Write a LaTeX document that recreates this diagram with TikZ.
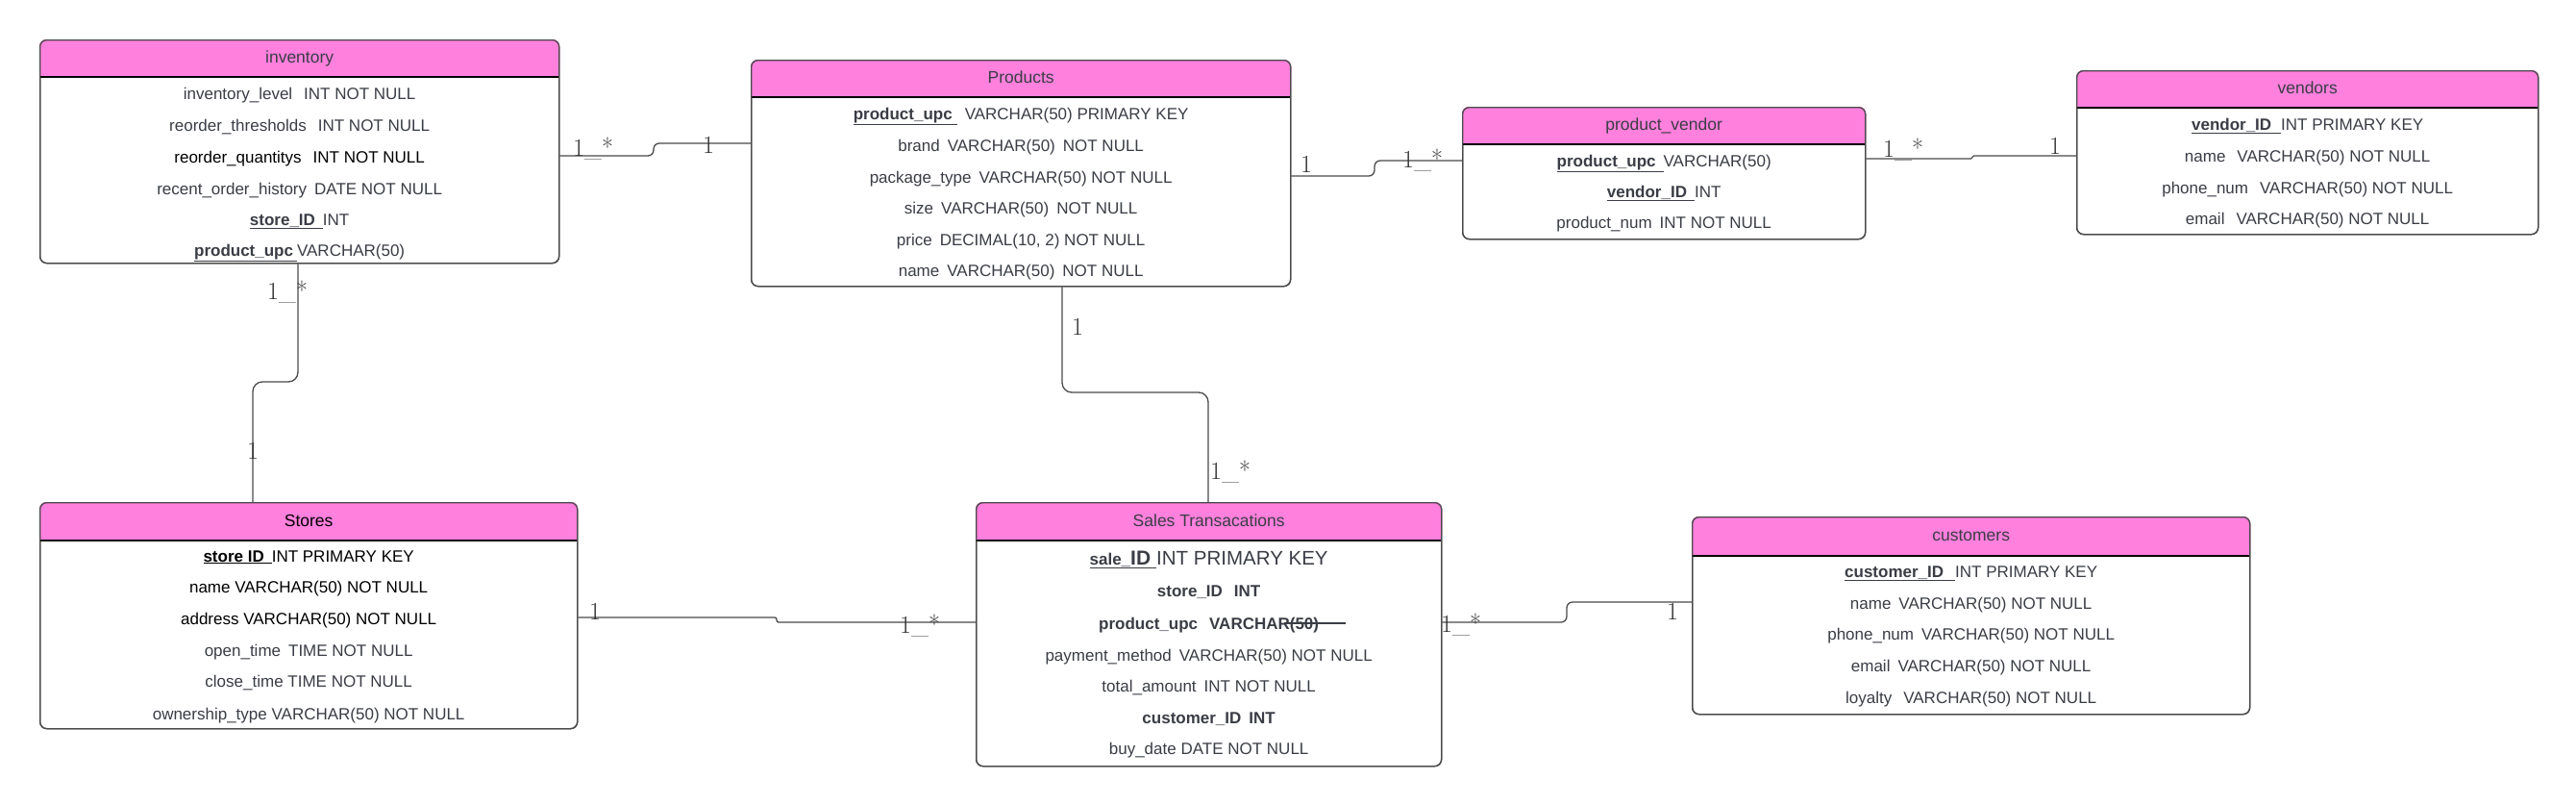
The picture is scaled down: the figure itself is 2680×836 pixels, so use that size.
\documentclass[tikz,border=0pt]{standalone}
\usepackage{fontspec}
\newfontfamily\tf{Liberation Sans}
\definecolor{hdr}{HTML}{FF80DD}
\definecolor{txt}{HTML}{3A3D45}
\definecolor{bord}{HTML}{4A4A4A}
\newcommand\ulx[1]{\underline{#1}}
\tikzset{
  tblbox/.style={draw=bord, line width=1.3pt, rounded corners=7pt, anchor=north west, inner sep=0pt, fill=none},
  row/.style={font=\tf\fontsize{17}{17}\selectfont, text=txt, inner sep=0pt, text height=13pt, text depth=3pt, anchor=center},
  rowk/.style={row, text=black},
  ttl/.style={row, font=\tf\fontsize{17.5}{17.5}\selectfont},
  conn/.style={draw=bord, line width=1.3pt, rounded corners=6pt},
  connb/.style={draw=bord, line width=1.3pt, rounded corners=10pt},
  card/.style={font=\fontsize{26}{26}\selectfont, text=black!80, inner sep=0pt, anchor=center},
}
% #1 name, #2 x1, #3 y1, #4 w, #5 h, #6 header bottom y, #7 title, #8 title style
\newcommand\ertable[8]{%
  \node[tblbox, minimum width=#4pt, minimum height=#5pt] (#1) at (#2,#3) {};
  \fill[hdr, rounded corners=7pt] (#1.north west) rectangle (#1.east |- 0,#6);
  \fill[hdr] (#1.west |- 0,{#3+12}) rectangle (#1.east |- 0,#6);
  \draw[black, line width=1.5pt] (#1.west |- 0,#6) -- (#1.east |- 0,#6);
  \node[tblbox, minimum width=#4pt, minimum height=#5pt] at (#2,#3) {};
  \node[#8] (#1-t) at ($(#1.north)!0.5!(#1.north |- 0,#6)$) {#7};
}
\usetikzlibrary{calc}
\begin{document}
\begin{tikzpicture}[x=1pt,y=-1pt]
\useasboundingbox[fill=white] (0,0) rectangle (2680,836);

% inventory
\ertable{inv}{41}{41}{540}{232}{80}{inventory}{ttl}
\node[row] (inv1) at (inv.north |- 0,98) {inventory\_level\hspace{12pt}INT NOT NULL};
\node[row] (inv2) at (inv.north |- 0,131) {reorder\_thresholds\hspace{12pt}INT NOT NULL};
\node[rowk] (inv3) at (inv.north |- 0,164) {reorder\_quantitys\hspace{12pt}INT NOT NULL};
\node[row] (inv4) at (inv.north |- 0,197) {recent\_order\_history\hspace{8pt}DATE NOT NULL};
\node[row] (inv5) at (inv.north |- 0,229) {\ulx{\textbf{store\_ID}\hspace{8pt}}INT};
\node[row] (inv6) at (inv.north |- 0,261) {\ulx{\textbf{product\_upc}\hspace{4pt}}VARCHAR(50)};

% Products
\ertable{prod}{781}{62}{561}{235}{101}{Products}{ttl}
\node[row] (p1) at (prod.north |- 0,119) {\ulx{\textbf{product\_upc}\hspace{5pt}}\hspace{8pt}VARCHAR(50) PRIMARY KEY};
\node[row] (p2) at (prod.north |- 0,152) {brand\hspace{8pt}VARCHAR(50)\hspace{8pt}NOT NULL};
\node[row] (p3) at (prod.north |- 0,185) {package\_type\hspace{8pt}VARCHAR(50) NOT NULL};
\node[row] (p4) at (prod.north |- 0,217) {size\hspace{8pt}VARCHAR(50)\hspace{8pt}NOT NULL};
\node[row] (p5) at (prod.north |- 0,250) {price\hspace{8pt}DECIMAL(10, 2) NOT NULL};
\node[row] (p6) at (prod.north |- 0,282) {name\hspace{8pt}VARCHAR(50)\hspace{8pt}NOT NULL};

% product_vendor
\ertable{pv}{1521}{111}{419}{137}{150}{product\_vendor}{ttl}
\node[row] (pv1) at (pv.north |- 0,168) {\ulx{\textbf{product\_upc}\hspace{8pt}}VARCHAR(50)};
\node[row] (pv2) at (pv.north |- 0,200) {\ulx{\textbf{vendor\_ID}\hspace{8pt}}INT};
\node[row] (pv3) at (pv.north |- 0,232) {product\_num\hspace{8pt}INT NOT NULL};

% vendors
\ertable{ven}{2160}{73}{480}{170}{112}{vendors}{ttl}
\node[row] (v1) at (ven.north |- 0,130) {\ulx{\textbf{vendor\_ID}\hspace{10pt}}INT PRIMARY KEY};
\node[row] (v2) at (ven.north |- 0,163) {name\hspace{12pt}VARCHAR(50) NOT NULL};
\node[row] (v3) at (ven.north |- 0,196) {phone\_num\hspace{12pt}VARCHAR(50) NOT NULL};
\node[row] (v4) at (ven.north |- 0,228) {email\hspace{12pt}VARCHAR(50) NOT NULL};

% Stores
\ertable{st}{41}{522}{559}{235}{562}{Stores}{ttl,text=black}
\node[rowk] (s1) at (st.north |- 0,579) {\ulx{\textbf{store ID}\hspace{8pt}}INT PRIMARY KEY};
\node[rowk] (s2) at (st.north |- 0,611) {name VARCHAR(50) NOT NULL};
\node[rowk] (s3) at (st.north |- 0,644) {address VARCHAR(50) NOT NULL};
\node[row] (s4) at (st.north |- 0,677) {open\_time\hspace{8pt}TIME NOT NULL};
\node[row] (s5) at (st.north |- 0,709) {close\_time TIME NOT NULL};
\node[row] (s6) at (st.north |- 0,743) {ownership\_type VARCHAR(50) NOT NULL};

% Sales Transacations
\ertable{sal}{1015}{522}{484}{274}{562}{Sales Transacations}{ttl}
\node[row] (t1) at (sal.north |- 0,582) {\ulx{\textbf{sale\_{\fontsize{21}{21}\selectfont ID}}\hspace{6pt}}{\fontsize{20.5}{20.5}\selectfont INT PRIMARY KEY}};
\node[row] (t2) at (sal.north |- 0,615) {\textbf{store\_ID\hspace{12pt}INT}};
\node[row] (t3) at (sal.north |- 0,649) {\textbf{product\_upc\hspace{12pt}VARCHAR(50)}};
\draw[txt, line width=1.2pt] ([xshift=-36pt,yshift=1pt]t3.east) -- ([xshift=28pt,yshift=1pt]t3.east);
\node[row] (t4) at (sal.north |- 0,682) {payment\_method\hspace{8pt}VARCHAR(50) NOT NULL};
\node[row] (t5) at (sal.north |- 0,714) {total\_amount\hspace{8pt}INT NOT NULL};
\node[row] (t6) at (sal.north |- 0,747) {\textbf{customer\_ID\hspace{8pt}INT}};
\node[row] (t7) at (sal.north |- 0,779) {buy\_date DATE NOT NULL};

% customers
\ertable{cu}{1760}{537}{580}{205}{578}{customers}{ttl}
\node[row] (c1) at (cu.north |- 0,595) {\ulx{\textbf{customer\_ID}\hspace{12pt}}INT PRIMARY KEY};
\node[row] (c2) at (cu.north |- 0,628) {name\hspace{8pt}VARCHAR(50) NOT NULL};
\node[row] (c3) at (cu.north |- 0,660) {phone\_num\hspace{8pt}VARCHAR(50) NOT NULL};
\node[row] (c4) at (cu.north |- 0,693) {email\hspace{8pt}VARCHAR(50) NOT NULL};
\node[row] (c5) at (cu.north |- 0,726) {loyalty\hspace{12pt}VARCHAR(50) NOT NULL};

% connectors
\draw[conn] (inv.east |- 0,162) -| (680,149) -- (prod.west |- 0,149);
\node[card] at (617,155) {1\_*};
\node[card] at (737,151) {1};

\draw[conn] (prod.east |- 0,183) -| (1430,167) -- (pv.west |- 0,167);
\node[card] at (1359,171) {1};
\node[card] at (1480,167) {1\_*};

\draw[conn, rounded corners=1.5pt] (pv.east |- 0,165) -| (2052,162) -- (ven.west |- 0,162);
\node[card] at (1980,156) {1\_*};
\node[card] at (2138,152) {1};

\draw[connb] (inv.south -| 310,0) |- (263,397) -- (st.north -| 263,0);
\node[card] at (299,303) {1\_*};
\node[card] at (263,469) {1};

\draw[connb] (prod.south -| 1105,0) |- (1257,408) -- (sal.north -| 1257,0);
\node[card] at (1121,340) {1};
\node[card] at (1280,490) {1\_*};

\draw[conn, rounded corners=2pt] (st.east |- 0,642) -| (808,647) -- (sal.west |- 0,647);
\node[card] at (619,636) {1};
\node[card] at (957,650) {1\_*};

\draw[conn] (sal.east |- 0,647) -| (1630,626) -- (cu.west |- 0,626);
\node[card] at (1520,649) {1\_*};
\node[card] at (1740,636) {1};
\end{tikzpicture}
\end{document}
